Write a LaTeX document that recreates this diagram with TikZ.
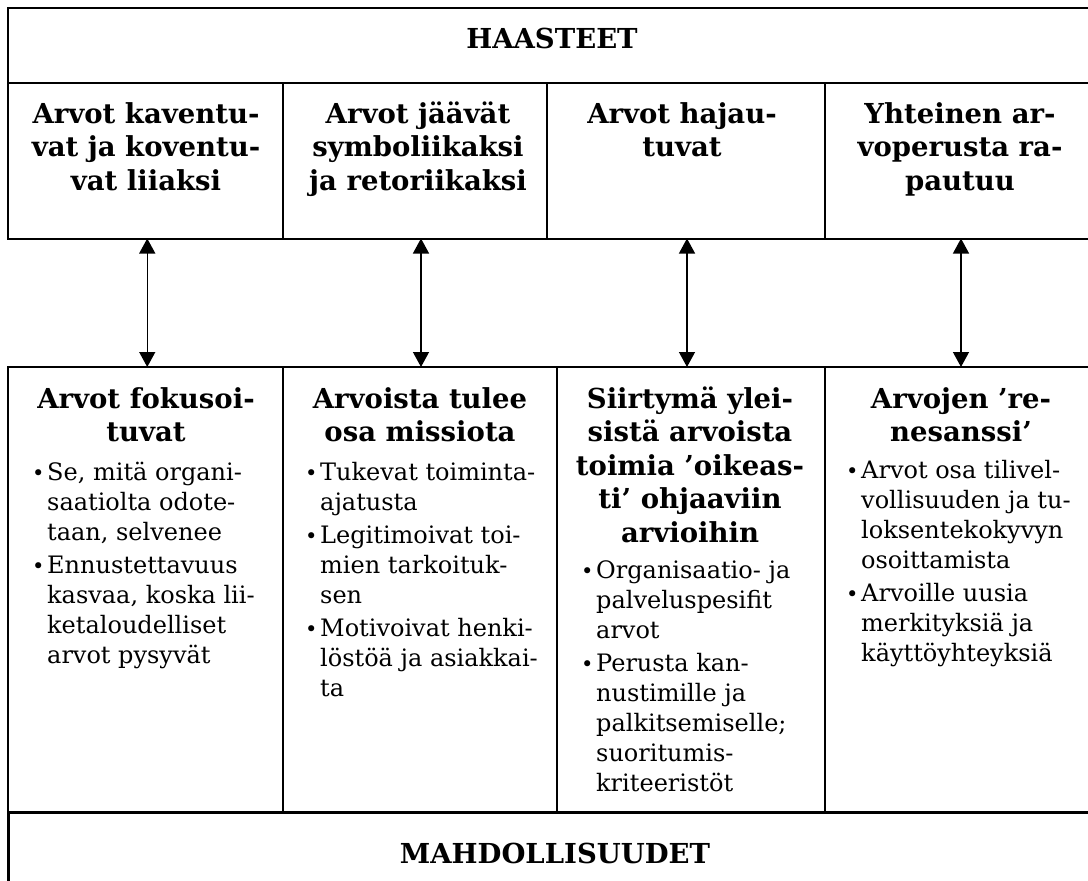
\documentclass[tikz,border=0pt]{standalone}
\usepackage{fontspec}
\setmainfont{DejaVu Serif}
\usetikzlibrary{arrows.meta}

\newcommand{\hdfont}{\fontsize{27.5}{33.5}\selectfont\bfseries}
\newcommand{\txfont}{\fontsize{24}{30}\selectfont}
\newcommand{\bul}{\makebox[15pt][l]{\fontsize{21}{21}\selectfont\textbullet}}

\tikzset{
  cell/.style={draw, rectangle, line width=2pt, inner sep=0pt, outer sep=0pt},
  head/.style={anchor=base, inner sep=0pt, font=\hdfont},
  body/.style={anchor=base west, inner sep=0pt, font=\txfont},
  link/.style={line width=1.3pt,
    {Triangle[width=16pt,length=15pt]}-{Triangle[width=16pt,length=15pt]}}
}

\begin{document}
\begin{tikzpicture}[x=1pt,y=-1pt]
\useasboundingbox (0,0) rectangle (1088,881);
\clip (0,0) rectangle (1088,881);

% challenges banner and its four cells
\node[cell, minimum width=1092.5pt, minimum height=75.5pt] (top) at (553.75,45.25) {};
\node[cell, minimum width=275.5pt, minimum height=155.5pt] (h1) at (145.25,160.75) {};
\node[cell, minimum width=264pt,   minimum height=155.5pt] (h2) at (415,160.75) {};
\node[cell, minimum width=278pt,   minimum height=155.5pt] (h3) at (686,160.75) {};
\node[cell, minimum width=275pt,   minimum height=155.5pt] (h4) at (962.5,160.75) {};

% opportunity cells and banner
\node[cell, minimum width=275.5pt, minimum height=445pt] (b1) at (145.25,589.5) {};
\node[cell, minimum width=274pt,   minimum height=445pt] (b2) at (420,589.5) {};
\node[cell, minimum width=268pt,   minimum height=445pt] (b3) at (691,589.5) {};
\node[cell, minimum width=275pt,   minimum height=445pt] (b4) at (962.5,589.5) {};
\node[cell, line width=3pt, minimum width=1092pt, minimum height=108pt] (bot) at (554,866) {};

% banner titles
\node[head] (ttop) at (552,48) {HAASTEET};
\node[head] (tbot) at (555,863) {MAHDOLLISUUDET};

% challenge headings
\node[head] (th1) at (146,123) {\begin{tabular}[t]{@{}c@{}}Arvot kaventu-\\vat ja koventu-\\vat liiaksi\end{tabular}};
\node[head] (th2) at (418,123) {\begin{tabular}[t]{@{}c@{}}Arvot jäävät\\symboliikaksi\\ja retoriikaksi\end{tabular}};
\node[head] (th3) at (682,123) {\begin{tabular}[t]{@{}c@{}}Arvot hajau-\\tuvat\end{tabular}};
\node[head] (th4) at (960,123) {\begin{tabular}[t]{@{}c@{}}Yhteinen ar-\\voperusta ra-\\pautuu\end{tabular}};

% opportunity headings
\node[head] (tb1) at (146,408) {\begin{tabular}[t]{@{}c@{}}Arvot fokusoi-\\tuvat\end{tabular}};
\node[head] (tb2) at (420,408) {\begin{tabular}[t]{@{}c@{}}Arvoista tulee\\osa missiota\end{tabular}};
\node[head] (tb3) at (690,408) {\begin{tabular}[t]{@{}c@{}}Siirtymä ylei-\\sistä arvoista\\toimia ’oikeas-\\ti’ ohjaaviin\\arvioihin\end{tabular}};
\node[head] (tb4) at (961,408) {\begin{tabular}[t]{@{}c@{}}Arvojen ’re-\\nesanssi’\end{tabular}};

% bullet lists
\node[body] (l1) at (32,480) {\begin{tabular}[t]{@{}l@{}l@{}}
\bul & Se, mitä organi-\\
     & saatiolta odote-\\
     & taan, selvenee\\[3pt]
\bul & Ennustettavuus\\
     & kasvaa, koska lii-\\
     & ketaloudelliset\\
     & arvot pysyvät
\end{tabular}};
\node[body] (l2) at (305,480) {\begin{tabular}[t]{@{}l@{}l@{}}
\bul & Tukevat toiminta-\\
     & ajatusta\\[3pt]
\bul & Legitimoivat toi-\\
     & mien tarkoituk-\\
     & sen\\[3pt]
\bul & Motivoivat henki-\\
     & löstöä ja asiakkai-\\
     & ta
\end{tabular}};
\node[body] (l3) at (581,578) {\begin{tabular}[t]{@{}l@{}l@{}}
\bul & Organisaatio- ja\\
     & palveluspesifit\\
     & arvot\\[3pt]
\bul & Perusta kan-\\
     & nustimille ja\\
     & palkitsemiselle;\\
     & suoritumis-\\
     & kriteeristöt
\end{tabular}};
\node[body] (l4) at (846,478) {\begin{tabular}[t]{@{}l@{}l@{}}
\bul & Arvot osa tilivel-\\
     & vollisuuden ja tu-\\
     & loksentekokyvyn\\
     & osoittamista\\[3pt]
\bul & Arvoille uusia\\
     & merkityksiä ja\\
     & käyttöyhteyksiä
\end{tabular}};

% two-way links between challenges and opportunities
\draw[link] ([xshift=2pt]h1.south) -- ([xshift=2pt]h1.south |- b1.north);
\draw[link] ([xshift=6pt]h2.south) -- ([xshift=6pt]h2.south |- b2.north);
\draw[link] ([xshift=1pt]h3.south) -- ([xshift=1pt]h3.south |- b3.north);
\draw[link] ([xshift=-1.5pt]h4.south) -- ([xshift=-1.5pt]h4.south |- b4.north);
\end{tikzpicture}
\end{document}
